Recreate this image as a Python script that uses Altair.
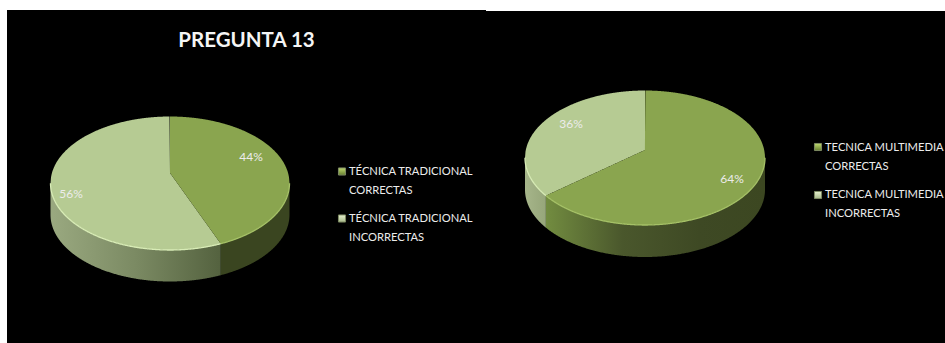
import altair as alt
import numpy as np
import pandas as pd

# Shares of correct / incorrect answers for each teaching technique
traditional_shares = [44, 56]
multimedia_shares = [64, 36]
chart_title = "PREGUNTA 13"
traditional_labels = ["TÉCNICA TRADICIONAL\nCORRECTAS", "TÉCNICA TRADICIONAL\nINCORRECTAS"]
multimedia_labels = ["TECNICA MULTIMEDIA\nCORRECTAS", "TECNICA MULTIMEDIA\nINCORRECTAS"]

# Colours
DARK_TOP, LIGHT_TOP = "#8aa54f", "#b6cb93"
DARK_RIM, LIGHT_RIM = "#a5c167", "#d8ecb6"
FONT = "Lato"
TEXT = "#ececec"
W, H = 945, 343

# Page layout in pixel units: the x and y scales below map one unit to one pixel
x_scale = alt.Scale(domain=[0, W], nice=False, zero=False)
y_scale = alt.Scale(domain=[H, 0], nice=False, zero=False)
X = alt.X("x:Q", scale=x_scale, axis=None)
Y = alt.Y("y:Q", scale=y_scale, axis=None)


def gradient(stops, horizontal=True):
    return alt.Gradient(
        gradient="linear",
        x1=0, y1=0,
        x2=1 if horizontal else 0,
        y2=0 if horizontal else 1,
        stops=[alt.GradientStop(offset=o, color=c) for o, c in stops],
    )


class TiltedPie:
    """A pie disc seen in perspective; angles run clockwise from the top."""

    def __init__(self, cx, apex, top, bottom, half_width, depth):
        near, far = bottom - apex, apex - top
        ratio = near / far
        self.k = (ratio - 1) / (ratio + 1)
        self.s = far * (1 + self.k)
        self.t = half_width * np.sqrt(1 - self.k ** 2)
        self.cx, self.apex, self.depth = cx, apex, depth
        self.widest = np.degrees(np.arccos(-self.k))

    def point(self, deg):
        th = np.radians(deg)
        d = 1 + self.k * np.cos(th)
        return self.cx + self.t * np.sin(th) / d, self.apex - self.s * np.cos(th) / d

    def slice_frame(self, start, end):
        """Top face of a slice as vertical spans over x, ready for an area mark."""
        ax, ay = self.point(np.linspace(start, end, 500))
        px = np.r_[self.cx, ax, self.cx]
        py = np.r_[self.apex, ay, self.apex]
        xs = np.arange(px.min(), px.max(), 0.5)
        xs = np.r_[xs, px.max()]
        rows = []
        for x in xs:
            lo, hi = px[:-1], px[1:]
            hit = ((lo - x) * (hi - x) <= 0) & (lo != hi)
            ys = py[:-1][hit] + (x - lo[hit]) / (hi[hit] - lo[hit]) * (py[1:][hit] - py[:-1][hit])
            if len(ys):
                rows.append((x, ys.min(), ys.max()))
        return pd.DataFrame(rows, columns=["x", "y", "y2"])

    def wall_frame(self, start, end):
        """Front wall under the arc between two angles on the near side."""
        start, end = max(start, self.widest), min(end, 360 - self.widest)
        ax, ay = self.point(np.linspace(start, end, 300))
        return pd.DataFrame({"x": ax, "y": ay, "y2": ay + self.depth}).sort_values("x")


def draw_pie(pie, shares, wall_fills):
    dark_end = shares[0] * 3.6
    slices = [(0, dark_end, DARK_TOP, DARK_RIM), (dark_end, 360, LIGHT_TOP, LIGHT_RIM)]
    layers = []
    for (start, end, _, rim), fill in zip(slices, wall_fills):
        wall = pie.wall_frame(start, end)
        layers.append(
            alt.Chart(wall).mark_area(fill=fill, stroke=None).encode(x=X, y=Y, y2="y2:Q")
        )
    for start, end, top, _ in reversed(slices):
        layers.append(
            alt.Chart(pie.slice_frame(start, end))
            .mark_area(color=top, interpolate="linear")
            .encode(x=X, y=Y, y2="y2:Q")
        )
    for start, end, _, rim in slices:
        layers.append(
            alt.Chart(pie.wall_frame(start, end))
            .mark_line(color=rim, strokeWidth=1.3)
            .encode(x=X, y=Y, order="x:Q")
        )
    return layers


def text_layer(rows, size, color=TEXT, weight="normal", align="left", baseline="middle", line_height=19):
    return (
        alt.Chart(pd.DataFrame(rows, columns=["x", "y", "label"]))
        .mark_text(
            font=FONT, fontSize=size, fontWeight=weight, color=color,
            align=align, baseline=baseline, lineBreak="\n", lineHeight=line_height,
        )
        .encode(x=X, y=Y, text="label:N")
    )


def swatches(rows, fill):
    return (
        alt.Chart(pd.DataFrame(rows, columns=["x", "y"]))
        .mark_square(size=50, fill=fill, stroke="#7d8a63", strokeWidth=1, opacity=1)
        .encode(x=X, y=Y)
    )


# Black panels behind each pie
panels = pd.DataFrame(
    {"x": [7, 486], "x2": [486, W], "y": [10, 11], "y2": [H, H]}
)
background = alt.Chart(panels).mark_rect(color="black", stroke=None).encode(
    x=X, x2="x2:Q", y=Y, y2="y2:Q"
)

left_pie = TiltedPie(cx=170, apex=173, top=116.5, bottom=250, half_width=119.5, depth=31.5)
right_pie = TiltedPie(cx=645, apex=150, top=90.5, bottom=225, half_width=120, depth=32)

left_layers = draw_pie(
    left_pie,
    traditional_shares,
    ["#3a4520", gradient([(0, "#9aa980"), (0.5, "#7b8a63"), (1, "#54623f")])],
)
right_layers = draw_pie(
    right_pie,
    multimedia_shares,
    [gradient([(0, "#728c40"), (0.35, "#4a572c"), (0.7, "#3e4924"), (1, "#3c4721")]),
     gradient([(0, "#a6b58a"), (1, "#96a67a")])],
)

title = text_layer([(246.5, 40.5, chart_title)], 20.5, color="#f5f5f5", weight="bold", align="center")
percent_labels = text_layer(
    [
        (251, 157, f"{traditional_shares[0]}%"),
        (71, 194, f"{traditional_shares[1]}%"),
        (732, 179, f"{multimedia_shares[0]}%"),
        (571, 124, f"{multimedia_shares[1]}%"),
    ],
    12,
    align="center",
)
legend_text = text_layer(
    [
        (349, 166, traditional_labels[0]),
        (349, 213, traditional_labels[1]),
        (825, 142, multimedia_labels[0]),
        (825, 189, multimedia_labels[1]),
    ],
    11.2,
    baseline="top",
)
dark_swatches = swatches(
    [(342, 171.5), (818, 147)], gradient([(0, "#c0da70"), (1, "#67802f")], horizontal=False)
)
light_swatches = swatches(
    [(342, 218.5), (818, 195)], gradient([(0, "#e6f0cf"), (1, "#a8b98a")], horizontal=False)
)

chart = alt.layer(
    background, *left_layers, *right_layers,
    title, percent_labels, dark_swatches, light_swatches, legend_text,
).properties(
    width=W, height=H, background="white", padding=0,
    autosize=alt.AutoSizeParams(type="none"),
).configure_view(stroke=None)

chart.save("out.html", embed_options={"renderer": "svg", "actions": False})
